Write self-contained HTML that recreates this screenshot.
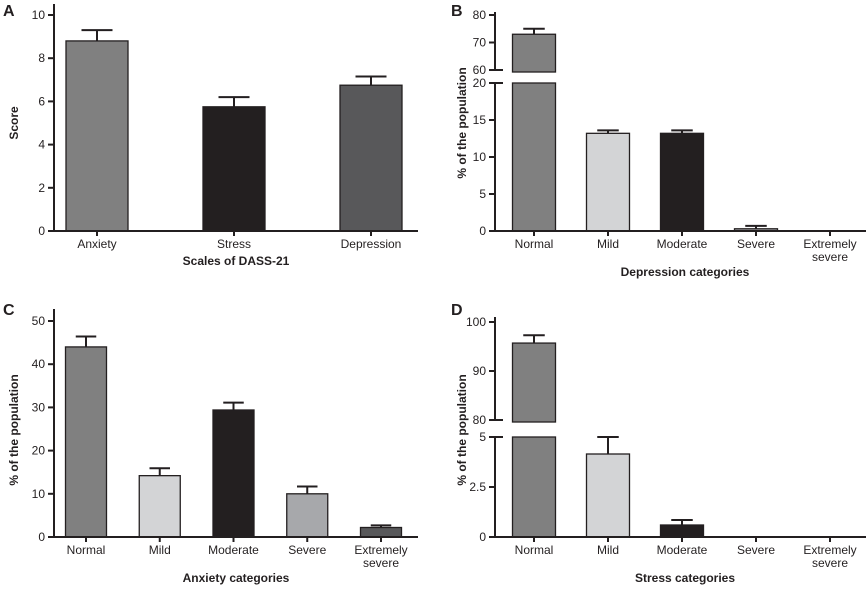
<!DOCTYPE html>
<html><head><meta charset="utf-8"><style>
body{margin:0;background:#fff}
svg{display:block;font-family:"Liberation Sans",Arial,sans-serif}
</style></head><body>
<svg id="s" width="868" height="591"></svg>
<script>
const aCats=["Anxiety","Stress","Depression"];
const aVals=[8.8,5.75,6.75];
const aErr=[9.3,6.2,7.15];
const bCats=["Normal","Mild","Moderate","Severe","Extremely|severe"];
const bVals=[73,13.2,13.2,0.3,0];
const bErr=[75,13.6,13.6,0.7,0];
const cCats=["Normal","Mild","Moderate","Severe","Extremely|severe"];
const cVals=[44,14.2,29.4,10,2.2];
const cErr=[46.4,15.9,31.1,11.7,2.7];
const dCats=["Normal","Mild","Moderate","Severe","Extremely|severe"];
const dVals=[95.7,4.15,0.6,0,0];
const dErr=[97.3,5.0,0.85,0,0];
const aTicks=["0","2","4","6","8","10"];
const bLowTicks=["0","5","10","15","20"], bHighTicks=["60","70","80"];
const cTicks=["0","10","20","30","40","50"];
const dLowTicks=["0","2.5","5"], dHighTicks=["80","90","100"];

const S=document.getElementById('s'),NS="http://www.w3.org/2000/svg";
function mk(t,a,p,name){const e=document.createElementNS(NS,t);for(const k in a)e.setAttribute(k,a[k]);


(p||S).appendChild(e);return e;}
function txt(x,y,s,o,name,p){const e=mk('text',Object.assign({x:x,y:y,'font-size':12,fill:'#231f20','text-anchor':'middle'},o||{}),p,name);e.textContent=s;return e;}

function panel(cfg){
 const g=mk('g',{},S,cfg.id);
 const L=cfg.x0, R=cfg.x1, base=cfg.low.y0;
 const yl=v=>cfg.low.y0-(v-cfg.low.v0)/(cfg.low.v1-cfg.low.v0)*(cfg.low.y0-cfg.low.y1);
 const yh=cfg.high?(v=>cfg.high.y0-(v-cfg.high.v0)/(cfg.high.v1-cfg.high.v0)*(cfg.high.y0-cfg.high.y1)):null;
 const bw=cfg.bw;
 cfg.cats.forEach((c,i)=>{
  const cx=L+cfg.first+cfg.step*i, v=cfg.vals[i], e=cfg.err[i];
  if(cfg.high && v>cfg.low.v1){
   mk('rect',{x:cx-bw/2,y:yl(cfg.low.v1),width:bw,height:base-yl(cfg.low.v1),fill:cfg.colors[i],stroke:'#231f20','stroke-width':1.3},g,'bar-'+i+'-lower');
   const top=yh(v),bot=cfg.high.y0+2;
   mk('rect',{x:cx-bw/2,y:top,width:bw,height:bot-top,fill:cfg.colors[i],stroke:'#231f20','stroke-width':1.3},g,'bar-'+i+'-upper');
   mk('path',{d:`M${cx},${top}V${yh(e)}M${cx-bw/4},${yh(e)}H${cx+bw/4}`,stroke:'#231f20','stroke-width':2,fill:'none'},g,'error-bar-'+i);
  } else if(v>0){
   const top=yl(v);
   mk('rect',{x:cx-bw/2,y:top,width:bw,height:base-top,fill:cfg.colors[i],stroke:'#231f20','stroke-width':1.3},g,'bar-'+i);
   mk('path',{d:`M${cx},${top}V${yl(e)}M${cx-bw/4},${yl(e)}H${cx+bw/4}`,stroke:'#231f20','stroke-width':2,fill:'none'},g,'error-bar-'+i);
  }
  mk('line',{x1:cx,x2:cx,y1:base,y2:base+5,stroke:'#231f20','stroke-width':2},g,'x-tick');
  const parts=c.split('|');
  parts.forEach((p,j)=>txt(cx,base+17+j*13,p,{},'x-tick-label',g));
 });
 mk('line',{x1:L-6,x2:R,y1:base,y2:base,stroke:'#231f20','stroke-width':2},g,'x-axis');
 mk('line',{x1:L,x2:L,y1:base,y2:cfg.low.top,stroke:'#231f20','stroke-width':2},g,'y-axis');
 cfg.low.ticks.forEach(t=>{const y=yl(parseFloat(t));
  mk('line',{x1:L-6,x2:L,y1:y,y2:y,stroke:'#231f20','stroke-width':2},g,'y-tick');
  txt(L-9,y+4,t,{'text-anchor':'end'},'y-tick-label',g);});
 if(cfg.high){
  mk('line',{x1:L,x2:L,y1:cfg.high.y0,y2:cfg.high.top,stroke:'#231f20','stroke-width':2},g,'y-axis-upper');
  cfg.high.ticks.forEach(t=>{const y=yh(parseFloat(t));
   mk('line',{x1:L-6,x2:L,y1:y,y2:y,stroke:'#231f20','stroke-width':2},g,'y-tick');
   txt(L-9,y+4,t,{'text-anchor':'end'},'y-tick-label',g);});
  [cfg.high.y0,cfg.low.top].forEach(y=>mk('line',{x1:L,x2:L+8,y1:y,y2:y,stroke:'#231f20','stroke-width':2},g,'axis-break-mark'));
 }
 txt(cfg.titleX,cfg.titleY,cfg.xTitle,{'font-weight':'bold'},'x-axis-title',g);
 txt(0,0,cfg.yTitle,{'font-weight':'bold',transform:`translate(${cfg.yTitleX},${cfg.yMid}) rotate(-90)`},'y-axis-title',g);
 txt(cfg.letterX,cfg.letterY,cfg.letter,{'font-weight':'bold','font-size':16,'text-anchor':'start'},'panel-label',g);
}
const G1='#808080',G2='#d3d4d6',BK='#231f20',G3='#a7a8ab',G4='#58585a';
panel({id:'panel-a',letter:'A',letterX:3,letterY:16,x0:54,x1:418,first:43,step:137,bw:62,cats:aCats,vals:aVals,err:aErr,colors:[G1,BK,G4],
 low:{v0:0,v1:10,y0:231,y1:15,top:4,ticks:aTicks},xTitle:'Scales of DASS-21',titleX:236,titleY:265,yTitle:'Score',yTitleX:18,yMid:123});
panel({id:'panel-b',letter:'B',letterX:451,letterY:16,x0:495,x1:866,first:39,step:74,bw:43,cats:bCats,vals:bVals,err:bErr,colors:[G1,G2,BK,G3,G4],
 low:{v0:0,v1:20,y0:231,y1:83,top:83,ticks:bLowTicks},high:{v0:60,v1:80,y0:70,y1:15,top:12,ticks:bHighTicks},
 xTitle:'Depression categories',titleX:685,titleY:276,yTitle:'% of the population',yTitleX:466,yMid:123});
panel({id:'panel-c',letter:'C',letterX:3,letterY:315,x0:54,x1:418,first:32,step:73.75,bw:41,cats:cCats,vals:cVals,err:cErr,colors:[G1,G2,BK,G3,G4],
 low:{v0:0,v1:50,y0:537,y1:321,top:309,ticks:cTicks},xTitle:'Anxiety categories',titleX:236,titleY:582,yTitle:'% of the population',yTitleX:18,yMid:430});
panel({id:'panel-d',letter:'D',letterX:451,letterY:315,x0:495,x1:866,first:39,step:74,bw:43,cats:dCats,vals:dVals,err:dErr,colors:[G1,G2,BK,G3,G4],
 low:{v0:0,v1:5,y0:537,y1:437,top:437,ticks:dLowTicks},high:{v0:80,v1:100,y0:420,y1:322,top:317,ticks:dHighTicks},
 xTitle:'Stress categories',titleX:685,titleY:582,yTitle:'% of the population',yTitleX:466,yMid:430});
</script>
</body></html>
